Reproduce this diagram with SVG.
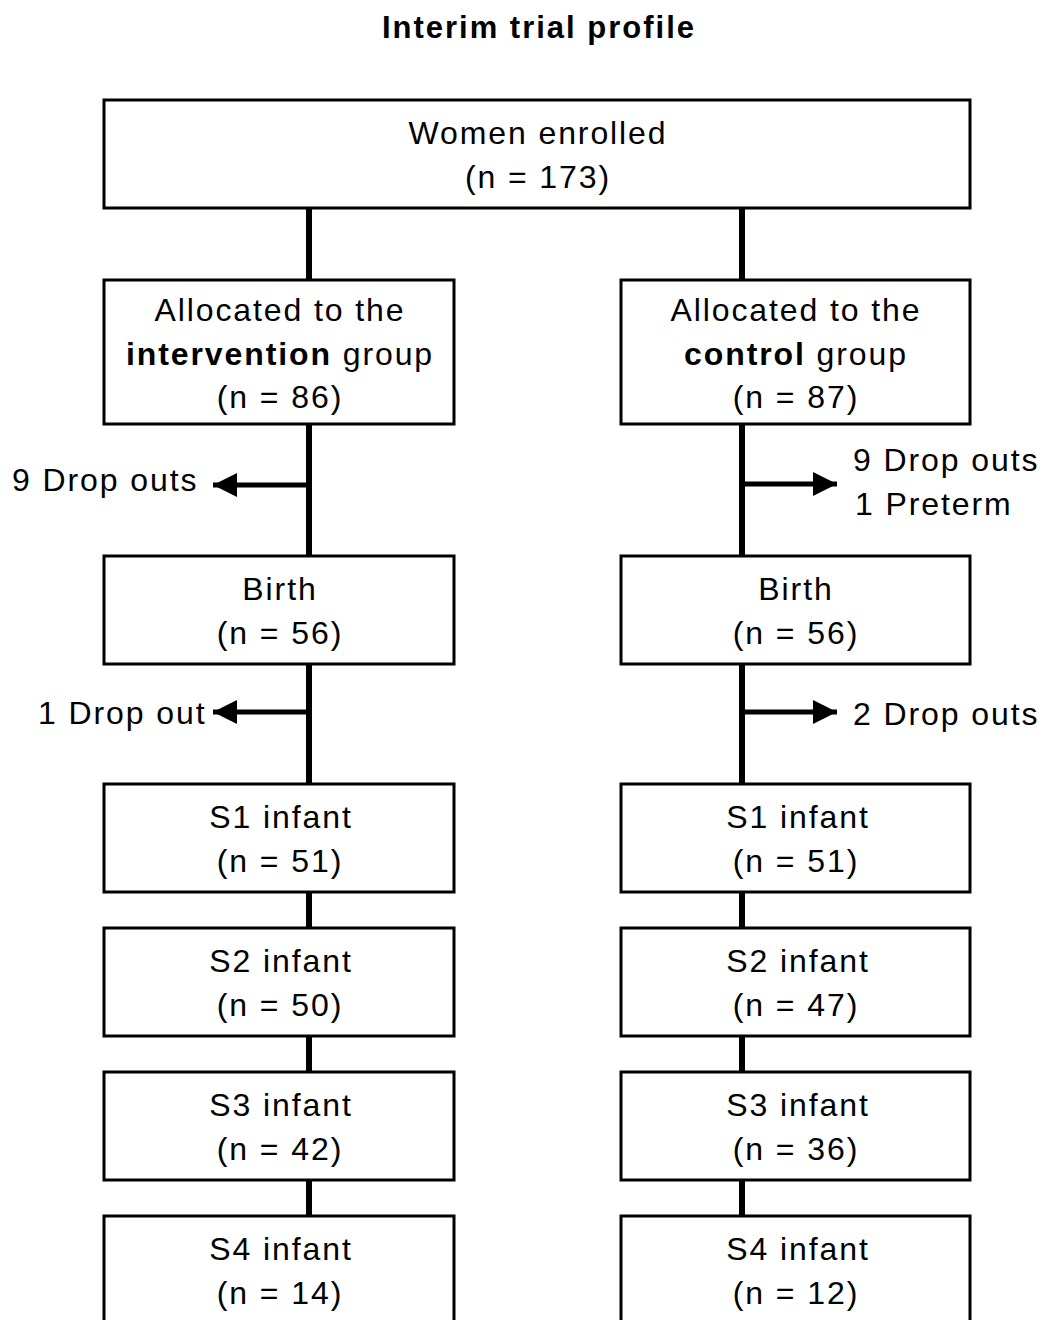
<svg xmlns="http://www.w3.org/2000/svg" width="1044" height="1320" viewBox="0 0 1044 1320">
<style>
text{font-family:"Liberation Sans",Arial,sans-serif;font-size:32px;letter-spacing:1.9px;fill:#000}
.c{text-anchor:middle}
.t{font-weight:bold;font-size:31px;letter-spacing:2px}
.b{font-weight:bold}
rect{fill:#fff;stroke:#000;stroke-width:3}
.v{stroke:#000;stroke-width:6;fill:none}
.h{stroke:#000;stroke-width:5;fill:none;marker-end:url(#ah)}
</style>
<defs>
<marker id="ah" markerUnits="userSpaceOnUse" markerWidth="26" markerHeight="24" refX="24" refY="12" orient="auto">
<path d="M0,0 L24,12 L0,24 Z" fill="#000"/>
</marker>
</defs>
<rect x="0" y="0" width="1044" height="1320" style="stroke:none;fill:#fff"/>
<text class="c t" x="539" y="38">Interim trial profile</text>
<g id="connectors">
<path class="v" d="M309,208 V280 M742,208 V280"/>
<path class="v" d="M309,424 V556 M742,424 V556"/>
<path class="v" d="M309,664 V784 M742,664 V784"/>
<path class="v" d="M309,892 V928 M742,892 V928"/>
<path class="v" d="M309,1036 V1072 M742,1036 V1072"/>
<path class="v" d="M309,1180 V1216 M742,1180 V1216"/>
<path class="h" d="M309,485 H213"/>
<path class="h" d="M742,484 H837"/>
<path class="h" d="M309,712 H213"/>
<path class="h" d="M742,712 H837"/>
</g>
<g id="labels">
<text x="12" y="491">9 Drop outs</text>
<text x="853" y="471">9 Drop outs</text>
<text x="855" y="515">1 Preterm</text>
<text x="38" y="724">1 Drop out</text>
<text x="853" y="725">2 Drop outs</text>
</g>
<g id="enrolled"><rect x="104" y="100" width="866" height="108"/>
<text class="c" x="538" y="144">Women enrolled</text><text class="c" x="538" y="188">(n = 173)</text></g>
<g id="alloc-int"><rect x="104" y="280" width="350" height="144"/>
<text class="c" x="280" y="321">Allocated to the</text><text class="c" x="280" y="365"><tspan class="b">intervention</tspan> group</text><text class="c" x="280" y="408">(n = 86)</text></g>
<g id="alloc-ctl"><rect x="621" y="280" width="349" height="144"/>
<text class="c" x="796" y="321">Allocated to the</text><text class="c" x="796" y="365"><tspan class="b">control</tspan> group</text><text class="c" x="796" y="408">(n = 87)</text></g>
<g id="birth-int"><rect x="104" y="556" width="350" height="108"/>
<text class="c" x="280" y="600">Birth</text><text class="c" x="280" y="644">(n = 56)</text></g>
<g id="birth-ctl"><rect x="621" y="556" width="349" height="108"/>
<text class="c" x="796" y="600">Birth</text><text class="c" x="796" y="644">(n = 56)</text></g>
<g id="s1-int"><rect x="104" y="784" width="350" height="108"/>
<text class="c" x="281" y="828">S1 infant</text><text class="c" x="280" y="872">(n = 51)</text></g>
<g id="s1-ctl"><rect x="621" y="784" width="349" height="108"/>
<text class="c" x="798" y="828">S1 infant</text><text class="c" x="796" y="872">(n = 51)</text></g>
<g id="s2-int"><rect x="104" y="928" width="350" height="108"/>
<text class="c" x="281" y="972">S2 infant</text><text class="c" x="280" y="1016">(n = 50)</text></g>
<g id="s2-ctl"><rect x="621" y="928" width="349" height="108"/>
<text class="c" x="798" y="972">S2 infant</text><text class="c" x="796" y="1016">(n = 47)</text></g>
<g id="s3-int"><rect x="104" y="1072" width="350" height="108"/>
<text class="c" x="281" y="1116">S3 infant</text><text class="c" x="280" y="1160">(n = 42)</text></g>
<g id="s3-ctl"><rect x="621" y="1072" width="349" height="108"/>
<text class="c" x="798" y="1116">S3 infant</text><text class="c" x="796" y="1160">(n = 36)</text></g>
<g id="s4-int"><rect x="104" y="1216" width="350" height="120"/>
<text class="c" x="281" y="1260">S4 infant</text><text class="c" x="280" y="1304">(n = 14)</text></g>
<g id="s4-ctl"><rect x="621" y="1216" width="349" height="120"/>
<text class="c" x="798" y="1260">S4 infant</text><text class="c" x="796" y="1304">(n = 12)</text></g>
</svg>
